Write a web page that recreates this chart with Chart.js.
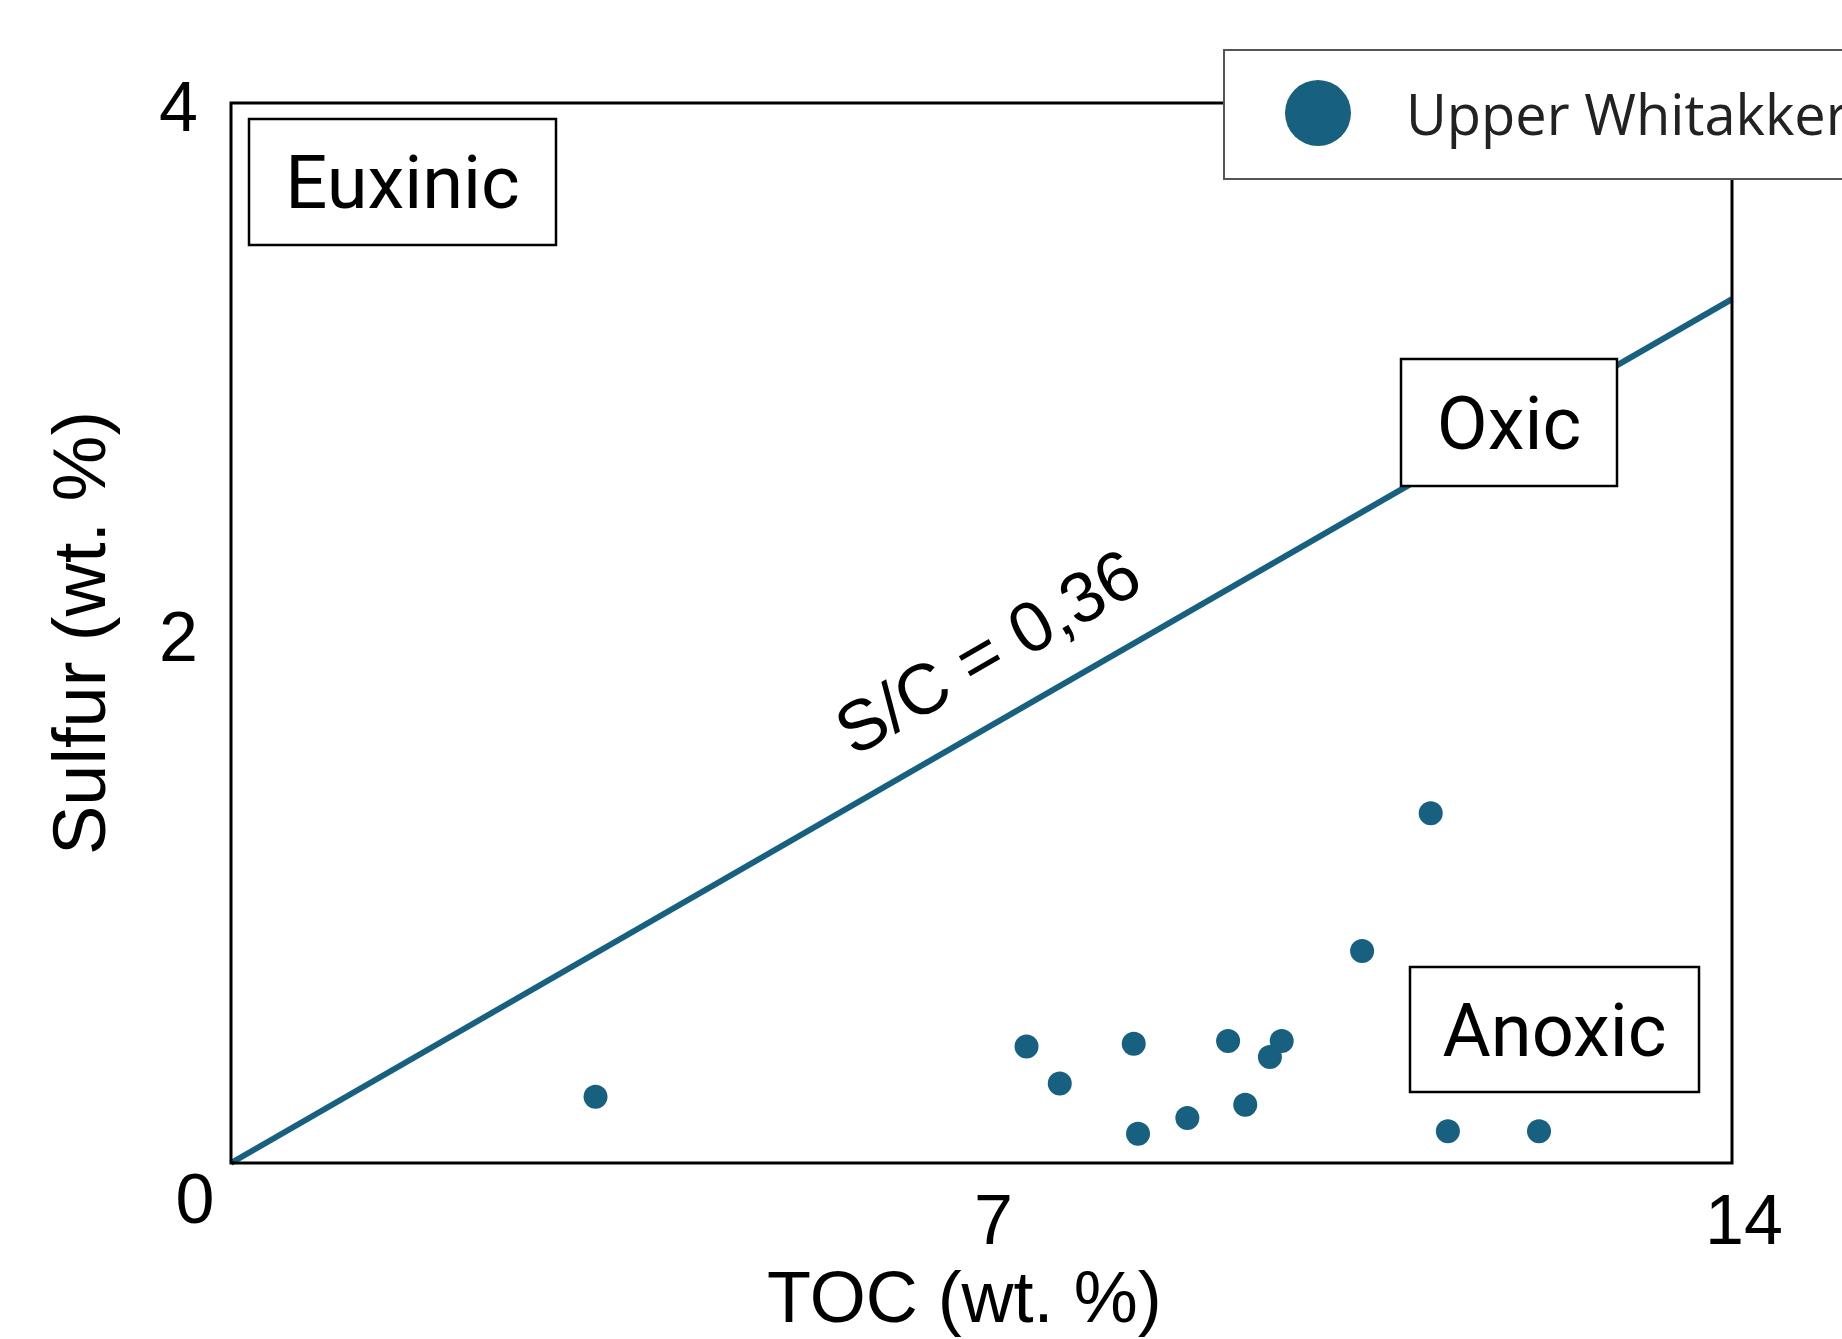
<!DOCTYPE html>
<html>
<head>
<meta charset="utf-8">
<script src="https://cdn.jsdelivr.net/npm/chart.js@4.4.1/dist/chart.umd.min.js"></script>
<style>
  html, body { margin: 0; padding: 0; background: #ffffff; }
  #wrap { width: 1842px; height: 1339px; }
</style>
</head>
<body>
<div id="wrap"><canvas id="myChart" width="1842" height="1339"></canvas></div>
<script>
// values
const tocValues = [3.4, 7.42, 7.73, 8.42, 8.46, 8.92, 9.3, 9.46, 9.69, 9.8, 10.55, 11.19, 11.35, 12.2];
const sulfurValues = [0.25, 0.44, 0.3, 0.45, 0.11, 0.17, 0.46, 0.22, 0.4, 0.46, 0.8, 1.32, 0.12, 0.12];
const ratioLineX = [0, 14];
const ratioLineY = [0, 3.26];
const xTicks = [0, 7, 14];
const yTicks = [0, 2, 4];
const seriesName = "Upper Whitakker";
const ratioLabel = "S/C = 0,36";

const blue = "#18607F";

// boxes, labels, frame and legend drawn on top of the data
const decorations = {
  id: "decorations",
  afterDatasetsDraw(chart) {
    const { ctx, chartArea: a, scales } = chart;
    const xs = scales.x, ys = scales.y;
    ctx.save();

    // frame
    ctx.strokeStyle = "#000";
    ctx.lineWidth = 3;
    ctx.strokeRect(a.left, a.top, a.right - a.left, a.bottom - a.top);

    // region boxes
    const boxes = [
      { text: "Euxinic", x0: 249, y0: 119, x1: 556, y1: 245 },
      { text: "Oxic", x0: 1401, y0: 359, x1: 1617, y1: 486 },
      { text: "Anoxic", x0: 1410, y0: 967, x1: 1699, y1: 1092 },
    ];
    ctx.font = "74px Roboto";
    ctx.textAlign = "center";
    ctx.textBaseline = "alphabetic";
    boxes.forEach((b) => {
      ctx.fillStyle = "#fff";
      ctx.fillRect(b.x0, b.y0, b.x1 - b.x0, b.y1 - b.y0);
      ctx.strokeStyle = "#000";
      ctx.lineWidth = 2.5;
      ctx.strokeRect(b.x0, b.y0, b.x1 - b.x0, b.y1 - b.y0);
      ctx.fillStyle = "#000";
      ctx.fillText(b.text, (b.x0 + b.x1) / 2, (b.y0 + b.y1) / 2 + 26);
    });

    // ratio label along the line
    ctx.save();
    ctx.translate(990, 656);
    ctx.rotate(-30 * Math.PI / 180);
    ctx.font = "71px 'Liberation Sans'";
    ctx.textAlign = "center";
    ctx.textBaseline = "middle";
    ctx.fillStyle = "#000";
    ctx.fillText(ratioLabel, 0, 0);
    ctx.restore();

    // shared corner zero
    ctx.font = "70px 'Liberation Sans'";
    ctx.textAlign = "center";
    ctx.textBaseline = "middle";
    ctx.fillStyle = "#000";
    ctx.fillText(String(xTicks[0]), xs.getPixelForValue(xTicks[0]) - 36, ys.getPixelForValue(yTicks[0]) + 41);

    // legend
    ctx.fillStyle = "#fff";
    ctx.fillRect(1224, 50, 640, 129);
    ctx.strokeStyle = "#555";
    ctx.lineWidth = 2;
    ctx.strokeRect(1224, 50, 640, 129);
    ctx.fillStyle = blue;
    ctx.beginPath();
    ctx.arc(1318, 113, 33, 0, Math.PI * 2);
    ctx.fill();
    ctx.fillStyle = "#222";
    ctx.font = "56px 'Open Sans'";
    ctx.textAlign = "left";
    ctx.textBaseline = "alphabetic";
    ctx.fillText(seriesName, 1406, 135);

    ctx.restore();
  },
};

const ctx = document.getElementById("myChart");

const myChart = new Chart(ctx, {
  type: "scatter",
  plugins: [decorations],
  data: {
    datasets: [
      {
        label: seriesName,
        data: tocValues.map((x, i) => ({ x: x, y: sulfurValues[i] })),
        backgroundColor: blue,
        borderColor: blue,
        pointRadius: 12,
        pointBorderWidth: 0,
      },
      {
        label: ratioLabel,
        data: ratioLineX.map((x, i) => ({ x: x, y: ratioLineY[i] })),
        showLine: true,
        borderColor: blue,
        borderWidth: 6,
        pointRadius: 0,
        clip: false,
      },
    ],
  },
  options: {
    responsive: false,
    animation: false,
    devicePixelRatio: 1,
    layout: {
      padding: { top: 103, right: 110, left: 0, bottom: 0 },
    },
    plugins: {
      legend: { display: false },
      tooltip: { enabled: false },
    },
    scales: {
      x: {
        type: "linear",
        min: 0,
        max: 14,
        afterBuildTicks: (scale) => { scale.ticks = xTicks.map((v) => ({ value: v })); },
        afterFit: (scale) => { scale.height = 176; },
        grid: { display: false, drawTicks: false },
        border: { display: false },
        ticks: {
          color: "#000",
          padding: 20,
          labelOffset: 12,
          maxRotation: 0,
          font: { family: "'Liberation Sans'", size: 70 },
          callback: (v) => (v === 0 ? "" : v),
        },
        title: {
          display: true,
          // trailing spaces nudge the centred title a little to the left
          text: "TOC (wt. %) \u2009",
          color: "#000",
          font: { family: "'Liberation Sans'", size: 72 },
          padding: { top: 0, bottom: -6 },
        },
      },
      y: {
        type: "linear",
        min: 0,
        max: 4,
        afterBuildTicks: (scale) => { scale.ticks = yTicks.map((v) => ({ value: v })); },
        afterFit: (scale) => { scale.width = 231; },
        grid: { display: false, drawTicks: false },
        border: { display: false },
        ticks: {
          color: "#000",
          padding: 33,
          labelOffset: 9,
          font: { family: "'Liberation Sans'", size: 70 },
          callback: (v) => (v === 0 ? "" : v),
        },
        title: {
          display: true,
          text: "Sulfur (wt. %)",
          color: "#000",
          font: { family: "'Liberation Sans'", size: 74 },
          padding: { top: 40, bottom: 0 },
        },
      },
    },
  },
});
</script>
</body>
</html>
